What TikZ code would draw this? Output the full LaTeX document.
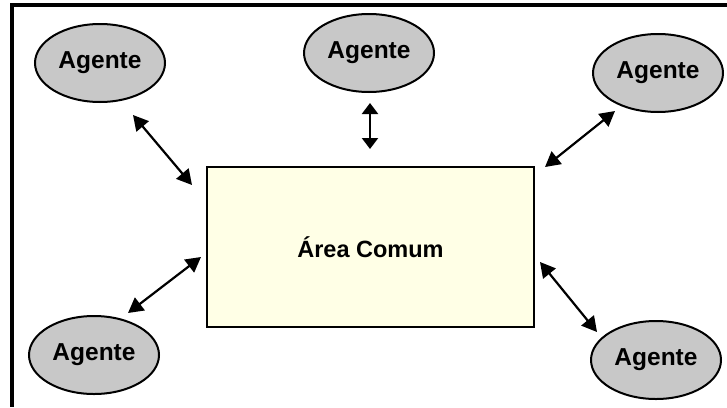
\documentclass[tikz,border=0pt]{standalone}
\usepackage{fontspec}
\setmainfont{Liberation Sans}
\usetikzlibrary{shapes.geometric,arrows.meta}
\definecolor{agentfill}{RGB}{200,200,200}
\definecolor{areafill}{RGB}{255,255,230}
\tikzset{
  agent/.style={ellipse, draw=black, line width=2pt, fill=agentfill,
    minimum width=130pt, minimum height=78pt, inner sep=0pt,
    font=\bfseries\fontsize{24.5}{28}\selectfont},
  area/.style={rectangle, draw=black, line width=2.6pt, fill=areafill,
    minimum width=327pt, minimum height=160pt, inner sep=0pt,
    font=\bfseries\fontsize{23.5}{28}\selectfont},
  link/.style={line width=2.2pt, {Triangle[length=15pt,width=16pt]}-{Triangle[length=15pt,width=16pt]}},
  frame/.style={line width=3.2pt}
}
\begin{document}
\begin{tikzpicture}[x=1pt,y=-1pt]
\useasboundingbox (0,0) rectangle (727,407);
% outer frame (only top and left edges show)
\draw[frame] (727,5) -- (12,5) -- (12,407);

\node[area] (area) at (370.5,247) {Área Comum};

\node[agent] (a1) at (100,63) {Agente};
\node[agent] (a2) at (369,53) {Agente};
\node[agent] (a3) at (658,73) {Agente};
\node[agent] (a4) at (94,355) {Agente};
\node[agent] (a5) at (656,360) {Agente};

% arrow end points
\coordinate (p1a) at (133,115); \coordinate (p1b) at (192,185);
\coordinate (p2a) at (370,103); \coordinate (p2b) at (370,149);
\coordinate (p3a) at (615,111); \coordinate (p3b) at (545,167);
\coordinate (p4a) at (128,313); \coordinate (p4b) at (201,257);
\coordinate (p5a) at (540,262); \coordinate (p5b) at (597,332);

\draw[link] (p1a) -- (p1b);
\draw[link, {Triangle[length=11pt,width=16pt]}-{Triangle[length=11pt,width=16pt]}] (p2a) -- (p2b);
\draw[link] (p3a) -- (p3b);
\draw[link] (p4a) -- (p4b);
\draw[link] (p5a) -- (p5b);
\end{tikzpicture}
\end{document}
